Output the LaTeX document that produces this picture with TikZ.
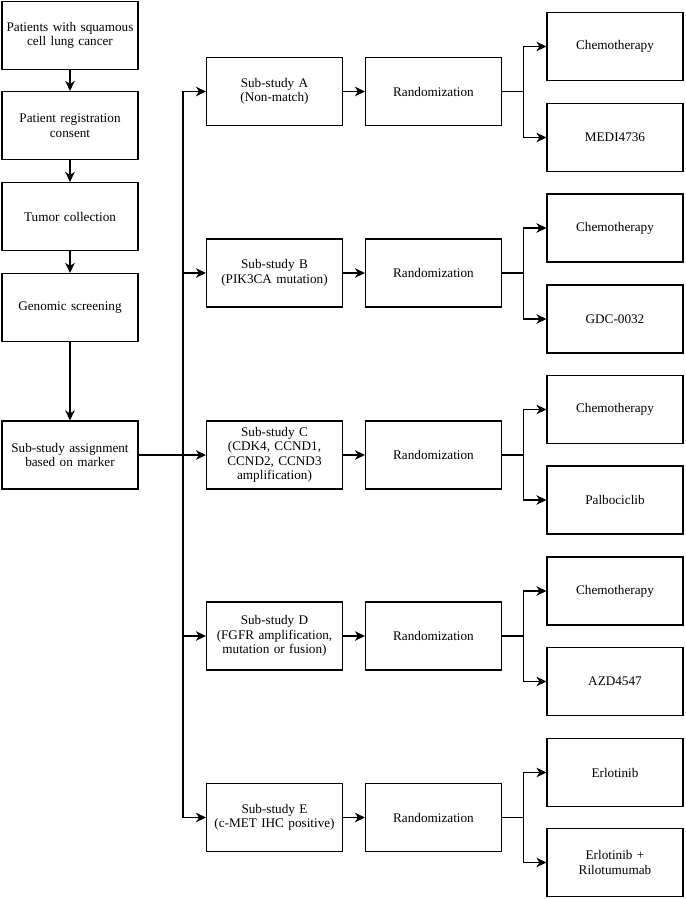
\documentclass[tikz,border=0pt]{standalone}
\usepackage{fontspec}
\setmainfont{Liberation Serif}
\usetikzlibrary{arrows.meta}
\begin{document}
\begin{tikzpicture}[x=1pt,y=-1pt,
  box/.style={draw, line width=1.1pt, minimum width=136pt, minimum height=68pt, inner sep=0pt,
    align=center, text width=134pt, font=\rmfamily\fontsize{13.2}{14.5}\selectfont},
  arr/.style={-{Stealth[length=10pt,width=9.5pt,inset=3pt]}, line width=1.1pt},
  ln/.style={line width=1.1pt}]
\useasboundingbox (0,0) rectangle (685,899);
% left column
\node[box] (p1) at (70,35.5) {Patients with squamous\\cell lung cancer};
\node[box] (p2) at (70,125.5) {Patient registration\\consent};
\node[box] (p3) at (70,216.5) {Tumor collection};
\node[box] (p4) at (70,307.5) {Genomic screening};
\node[box] (p5) at (70,455) {Sub-study assignment\\based on marker};
\draw[arr] (p1) -- (p2);
\draw[arr] (p2) -- (p3);
\draw[arr] (p3) -- (p4);
\draw[arr] (p4) -- (p5);
% sub-studies
\node[box] (sa) at (274.5,91.5) {Sub-study A\\(Non-match)};
\node[box] (sb) at (274.5,273) {Sub-study B\\(PIK3CA mutation)};
\node[box] (sc) at (274.5,455) {Sub-study C\\(CDK4, CCND1,\\CCND2, CCND3\\amplification)};
\node[box] (sd) at (274.5,636) {Sub-study D\\(FGFR amplification,\\mutation or fusion)};
\node[box] (se) at (274.5,817.5) {Sub-study E\\(c-MET IHC positive)};
% randomization
\node[box] (ra) at (433.5,91.5) {Randomization};
\node[box] (rb) at (433.5,273) {Randomization};
\node[box] (rc) at (433.5,455) {Randomization};
\node[box] (rd) at (433.5,636) {Randomization};
\node[box] (re) at (433.5,817.5) {Randomization};
% arms
\node[box] (a1) at (615,46.5) {Chemotherapy};
\node[box] (a2) at (615,137.5) {MEDI4736};
\node[box] (b1) at (615,228) {Chemotherapy};
\node[box] (b2) at (615,319) {GDC-0032};
\node[box] (c1) at (615,409.5) {Chemotherapy};
\node[box] (c2) at (615,500) {Palbociclib};
\node[box] (d1) at (615,591) {Chemotherapy};
\node[box] (d2) at (615,681.5) {AZD4547};
\node[box] (e1) at (615,772.5) {Erlotinib};
\node[box] (e2) at (615,862.5) {Erlotinib +\\Rilotumumab};
% bus
\coordinate (bus) at (183,455);
\draw[ln] (p5.east) -- (bus);
\draw[arr] (bus) |- (sa.west);
\draw[arr] (bus) |- (sb.west);
\draw[arr] (bus) -- (sc.west);
\draw[arr] (bus) |- (sd.west);
\draw[arr] (bus) |- (se.west);
% sub-study to randomization
\foreach \s/\r in {sa/ra,sb/rb,sc/rc,sd/rd,se/re}{\draw[arr] (\s) -- (\r);}
% randomization to arms
\foreach \r/\x/\y in {ra/a1/a2,rb/b1/b2,rc/c1/c2,rd/d1/d2,re/e1/e2}{
  \draw[arr] (\r.east) -- ++(21,0) |- (\x.west);
  \draw[arr] (\r.east) -- ++(21,0) |- (\y.west);
}
\end{tikzpicture}
\end{document}
